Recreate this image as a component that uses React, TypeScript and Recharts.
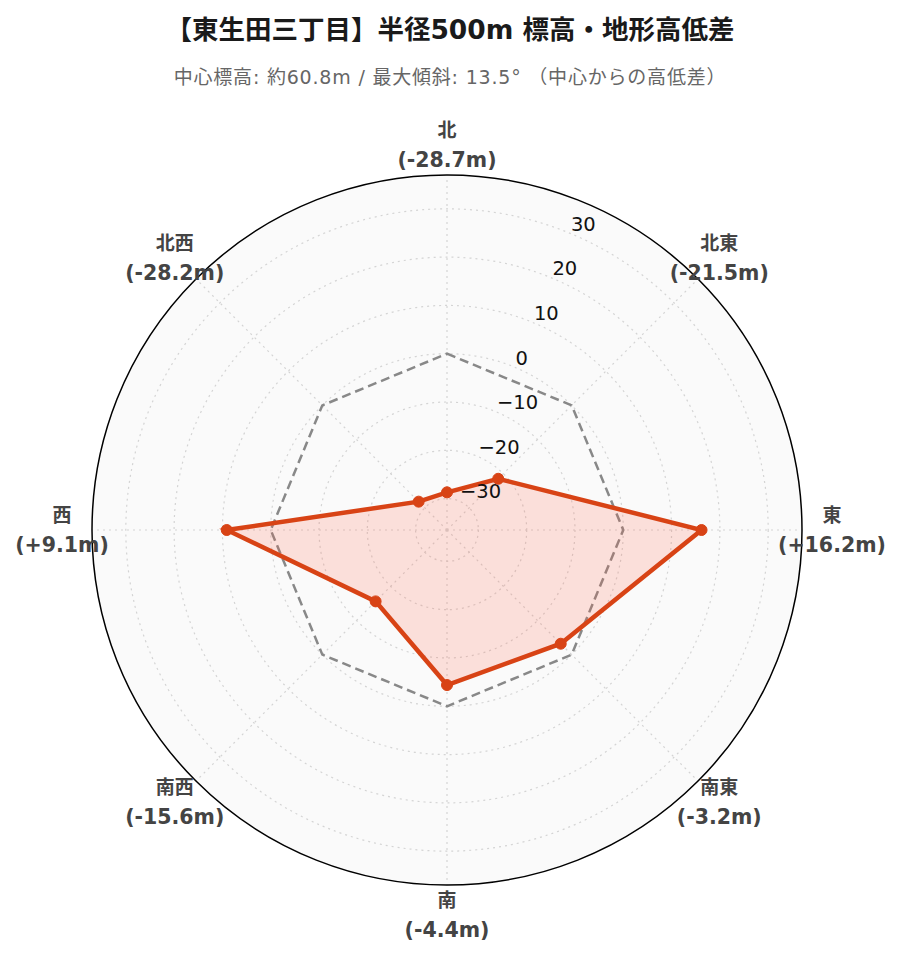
import React from 'react';
import { RadarChart, Radar, PolarGrid, PolarAngleAxis, PolarRadiusAxis } from 'recharts';

const directions = ['北', '北東', '東', '南東', '南', '南西', '西', '北西'];
const elevationDiff = [-28.7, -21.5, 16.2, -3.2, -4.4, -15.6, 9.1, -28.2];
const centerLine = [0, 0, 0, 0, 0, 0, 0, 0];
const radiusTicks = [-30, -20, -10, 0, 10, 20, 30];
const radiusDomain: [number, number] = [-36.5, 36.5];

const titleText = '【東生田三丁目】半径500m 標高・地形高低差';
const subtitleText = '中心標高: 約60.8m / 最大傾斜: 13.5° （中心からの高低差）';

const data = directions.map((d, i) => ({ dir: d, diff: elevationDiff[i], zero: centerLine[i] }));

const W = 900;
const H = 962;
const CX = 447;
const CY = 530;
const R = 355;

const FONT = '"DejaVu Sans", "Noto Sans CJK JP", sans-serif';

const fmtDiff = (v: number) => `(${v > 0 ? '+' : ''}${v.toFixed(1)}m)`;

const AngleTick = (props: any) => {
  const { x, y, payload } = props;
  const i = directions.indexOf(payload.value);
  return (
    <g>
      <text x={x} y={y - 8} textAnchor="middle" fontSize={19} fontWeight="bold" fill="#444" fontFamily={FONT}>
        {payload.value}
      </text>
      <text x={x} y={y + 22} textAnchor="middle" fontSize={20.5} fontWeight="bold" fill="#444" fontFamily={FONT}>
        {i >= 0 ? fmtDiff(elevationDiff[i]) : ''}
      </text>
    </g>
  );
};

const RadiusTick = (props: any) => {
  const { x, y, payload } = props;
  const v = Number(payload.value);
  const label = v < 0 ? `\u2212${Math.abs(v)}` : `${v}`;
  return (
    <text x={x + 1} y={y - 9} textAnchor="start" dominantBaseline="central" fontSize={19.5} fill="#111" fontFamily={FONT}>
      {label}
    </text>
  );
};

export default function App() {
  return (
    <div style={{ position: 'absolute', left: 0, top: 0, width: W, height: H, background: '#fff', overflow: 'hidden' }}>
      <svg width={W} height={H} style={{ position: 'absolute', left: 0, top: 0 }}>
        <circle cx={CX} cy={CY} r={R} fill="#fafafa" stroke="none" />
      </svg>
      <div
        style={{
          position: 'absolute',
          left: 0,
          top: 8,
          width: W,
          textAlign: 'center',
          fontFamily: FONT,
          fontWeight: 'bold',
          fontSize: 26.5,
          color: '#1a1a1a',
          whiteSpace: 'nowrap',
        }}
      >
        {titleText}
      </div>
      <div
        style={{
          position: 'absolute',
          left: 0,
          top: 62,
          width: W,
          textAlign: 'center',
          fontFamily: FONT,
          fontSize: 19,
          letterSpacing: 0.8,
          color: '#666',
          whiteSpace: 'nowrap',
        }}
      >
        {subtitleText}
      </div>
      <div style={{ position: 'absolute', left: 0, top: 0 }}>
        <RadarChart
          width={W}
          height={H}
          data={data}
          cx={CX}
          cy={CY}
          outerRadius={R}
          margin={{ top: 0, right: 0, bottom: 0, left: 0 }}
        >
          <PolarGrid gridType="circle" stroke="#d4d4d4" strokeDasharray="2 4" strokeWidth={1.2} />
          <PolarAngleAxis
            dataKey="dir"
            tick={<AngleTick />}
            tickLine={false}
            tickSize={30}
            axisLineType="circle"
            axisLine={{ stroke: '#000', strokeWidth: 1.5 }}
          />
          <PolarRadiusAxis
            angle={67.5}
            domain={radiusDomain}
            ticks={radiusTicks as any}
            tickCount={8}
            axisLine={false}
            tickLine={false}
            tick={<RadiusTick />}
          />
          <Radar
            dataKey="zero"
            stroke="#888"
            strokeWidth={2.5}
            strokeDasharray="9 5"
            fill="none"
            fillOpacity={0}
            isAnimationActive={false}
          />
          <Radar
            dataKey="diff"
            stroke="#D84315"
            strokeWidth={4.5}
            fill="#FF6347"
            fillOpacity={0.18}
            dot={{ r: 5.5, fill: '#D84315', fillOpacity: 1, stroke: '#D84315', strokeWidth: 1 }}
            isAnimationActive={false}
          />
        </RadarChart>
      </div>
    </div>
  );
}
